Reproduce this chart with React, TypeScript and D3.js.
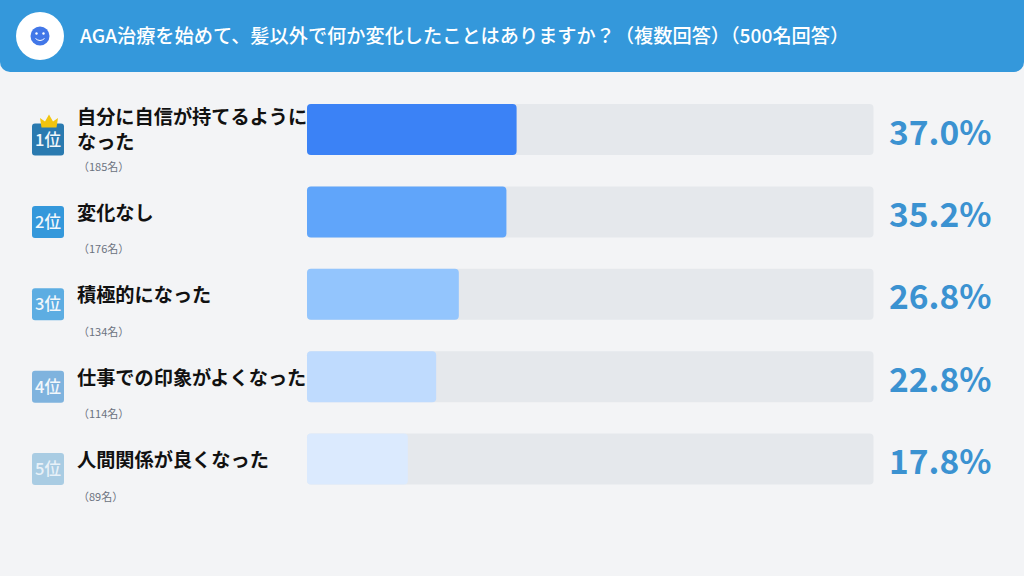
import React from "react";
import * as d3 from "d3";

const title = "AGA治療を始めて、髪以外で何か変化したことはありますか？（複数回答）（500名回答）";
const ranks = ["1位", "2位", "3位", "4位", "5位"];
const labels = [["自分に自信が持てるように", "なった"], ["変化なし"], ["積極的になった"], ["仕事での印象がよくなった"], ["人間関係が良くなった"]];
const counts = ["（185名）", "（176名）", "（134名）", "（114名）", "（89名）"];
const values = [37.0, 35.2, 26.8, 22.8, 17.8];
const barColors = ["#3b82f6", "#60a5fa", "#93c5fd", "#bfdbfe", "#dbeafe"];
const badgeColors = ["#2a7ab0", "#3498db", "#5dade2", "#7fb3de", "#a9cce3"];

const FONT = "'Noto Sans CJK JP', 'Noto Sans', sans-serif";

export default function App() {
  const x = d3.scaleLinear().domain([0, 100]).range([307, 873.5]);
  const step = 82.4;
  const y = d3.scaleLinear().domain([0, 1]).range([104, 104 + step]);
  const bandH = 51;
  const crown = "M41.5,127.5L40,118L45,121.5L49,114.5L53,121.5L58,118L56.5,127.5Z";
  return (
    <svg width={1024} height={576} viewBox="0 0 1024 576" style={{ position: "fixed", left: 0, top: 0, fontFamily: FONT }}>
      <rect width={1024} height={576} fill="#f3f4f6" />
      <path d="M0,0H1024V62a10,10 0 0 1 -10,10H10a10,10 0 0 1 -10,-10Z" fill="#3498db" />
      <circle cx={40} cy={36} r={24} fill="#fff" />
      <circle cx={40} cy={36} r={9.5} fill="#4277e8" />
      <circle cx={36.5} cy={33.5} r={1.2} fill="#fff" />
      <circle cx={43.5} cy={33.5} r={1.2} fill="#fff" />
      <path d="M35.5,38.5Q40,42.5 44.5,38.5" fill="none" stroke="#fff" strokeWidth={1} />
      <text x={80} y={42.5} fontSize={19.2} fontWeight={500} fill="#fff">{title}</text>
      {values.map((v, i) => {
        const top = y(i);
        const lines = labels[i];
        return (
          <g key={i}>
            <rect x={x(0)} y={top} width={x(100) - x(0)} height={bandH} rx={4} fill="#e5e8ec" />
            <rect x={x(0)} y={top} width={x(v) - x(0)} height={bandH} rx={4} fill={barColors[i]} />
            <rect x={32} y={top + 19.5} width={32} height={32} rx={3} fill={badgeColors[i]} />
            <text x={48} y={top + 41.5} textAnchor="middle" fontSize={16.5} fontWeight={500} fill={i === 4 ? "#e8f1f8" : "#f2f7fb"}>{ranks[i]}</text>
            <text x={77} y={top + (lines.length > 1 ? 20 : 33.5)} fontSize={19.2} fontWeight={700} fill="#111">
              {lines.map((line, j) => (
                <tspan key={j} x={77} dy={j === 0 ? 0 : 25}>{line}</tspan>
              ))}
            </text>
            <text x={78} y={top + 67} fontSize={11} fill="#6b7280">{counts[i]}</text>
            <text x={889} y={top + 40.5} fontSize={33.5} fontWeight={700} fill="#3b92d1">{v.toFixed(1)}%</text>
          </g>
        );
      })}
      <path d={crown} fill="#f1c40f" />
    </svg>
  );
}
